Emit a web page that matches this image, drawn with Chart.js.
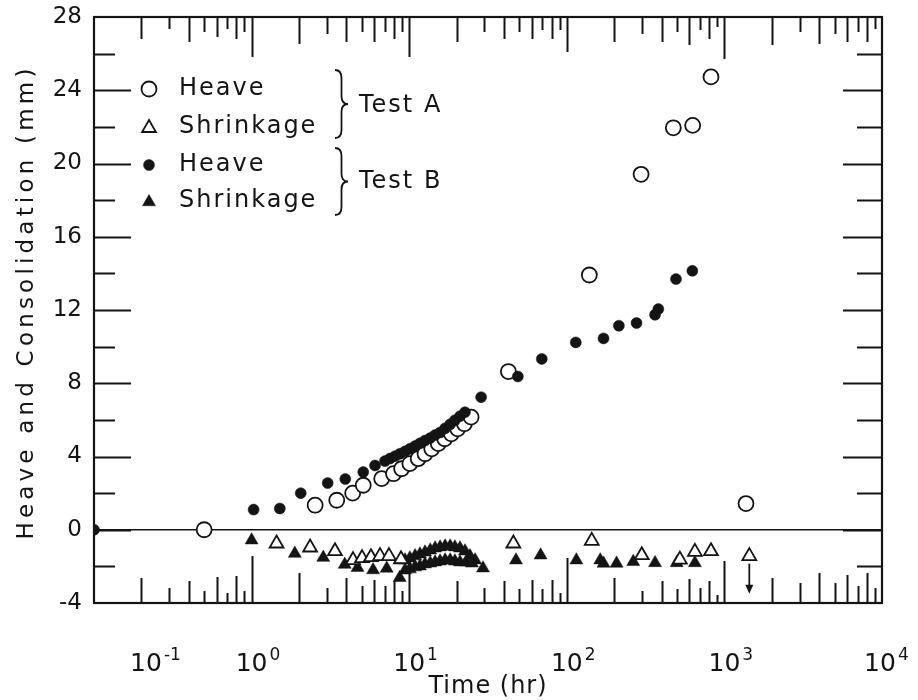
<!DOCTYPE html>
<html>
<head>
<meta charset="utf-8">
<script src="https://cdn.jsdelivr.net/npm/chart.js@4.4.1/dist/chart.umd.min.js"></script>
<style>
  html, body { margin: 0; padding: 0; background: #fff; }
  #wrap { width: 918px; height: 700px; }
</style>
</head>
<body>
<div id="wrap"><canvas id="c"></canvas></div>
<script>
"use strict";

// Test A - heave (open circles)
const heaveA_t = [0.5, 2.53, 3.47, 4.38, 5.11, 6.69, 7.95, 8.95, 10.1, 11.4, 12.6, 13.9, 15.3, 16.8, 18.5, 20.3, 22.4, 24.7, 42.6, 139, 296, 474, 629, 822, 1371];
const heaveA_v = [0, 1.34, 1.61, 2.0, 2.43, 2.79, 3.06, 3.33, 3.61, 3.88, 4.15, 4.42, 4.70, 4.97, 5.24, 5.51, 5.79, 6.15, 8.64, 13.91, 19.41, 21.95, 22.08, 24.73, 1.43];

// Test A - shrinkage (open triangles)
const shrinkA_t = [1.44, 2.35, 3.38, 4.40, 5.02, 5.72, 6.53, 7.44, 8.87, 45.8, 144, 299, 522, 650, 822, 1439];
const shrinkA_v = [-0.75, -0.97, -1.17, -1.66, -1.55, -1.50, -1.44, -1.44, -1.61, -0.75, -0.61, -1.39, -1.63, -1.21, -1.17, -1.44];

// Test B - heave (filled circles)
const heaveB_t = [0.1, 1.03, 1.51, 2.05, 3.04, 3.93, 5.11, 6.07, 7.02, 7.55, 8.13, 8.74, 9.41, 10.1, 10.9, 11.7, 12.6, 13.6, 14.6, 15.7, 16.9, 18.2, 19.5, 21.0, 22.6, 28.6, 48.9, 69.4, 114, 171, 214, 277, 363, 381, 493, 626];
const heaveB_v = [0, 1.10, 1.16, 2.0, 2.55, 2.77, 3.15, 3.51, 3.75, 3.89, 4.02, 4.15, 4.28, 4.42, 4.57, 4.72, 4.87, 5.01, 5.17, 5.31, 5.54, 5.76, 5.98, 6.20, 6.42, 7.24, 8.37, 9.33, 10.23, 10.45, 11.14, 11.29, 11.74, 12.05, 13.69, 14.14];

// Test B - shrinkage (filled triangles)
const shrinkB_t = [1.0, 1.88, 2.85, 3.9, 4.7, 5.9, 7.2, 8.7,
  9.41, 10.1, 10.9, 11.7, 12.6, 13.6, 14.6, 15.7, 16.9, 18.2, 19.5, 21.0, 22.6, 24.3, 26.2,
  9.41, 10.1, 10.9, 11.7, 12.6, 13.6, 14.6, 15.7, 16.9, 18.2, 19.5, 21.0, 22.9, 25.0, 29.4,
  47.6, 68.2, 115, 163, 171, 207, 264, 363, 498, 650];
const shrinkB_v = [-0.57, -1.30, -1.52, -1.90, -2.07, -2.20, -2.11, -2.62,
  -1.66, -1.55, -1.44, -1.34, -1.23, -1.12, -1.01, -0.95, -0.90, -0.90, -0.95, -1.01, -1.17, -1.44, -1.66,
  -2.21, -2.15, -2.04, -1.99, -1.88, -1.83, -1.77, -1.72, -1.66, -1.66, -1.72, -1.77, -1.77, -1.83, -2.10,
  -1.66, -1.39, -1.66, -1.66, -1.84, -1.84, -1.75, -1.81, -1.81, -1.81];

// last Test A shrinkage reading continues below the plotted value
const arrowT = 1439;
const arrowFrom = -1.85;
const arrowTo = -3.5;

const decadeTicks = [0.1, 1, 10, 100, 1000, 10000];
const decadeExp = ['-1', '0', '1', '2', '3', '4'];
const yTickValues = [-4, 0, 4, 8, 12, 16, 20, 24, 28];

// hand-drawn tick lengths (px), minor ticks 2..9 of each decade
const bottomMinorLen = [[25,15,22,12,26,10,27,12],[30,15,25,17,23,17,22,12],[22,15,22,14,23,14,23,10],[25,12,22,14,24,15,22,8],[25,20,30,20,28,17,30,15]];
const bottomMajorLen = [47, 47, 45, 42];
const topMinorLen = [[22,12,25,15,20,12,22,15],[27,17,25,15,25,15,22,15],[25,15,22,15,22,13,22,13],[25,17,25,15,28,13,22,10],[28,15,27,17,25,15,25,12]];
const topMajorLen = [40, 40, 35, 42];
// horizontal nudge of each decade label (first one clears the y labels)
const decadeLabelShift = [52, 0, 0, 0, 0, -2];

const FONT = "'DejaVu Sans', sans-serif";
const INK = '#141414';

function pts(ts, vs) {
    return ts.map((t, i) => ({ x: t, y: vs[i] }));
}

const styles = {
    openCircle:  { pointStyle: 'circle',   pointRadius: 7.5, backgroundColor: '#fff', borderColor: INK, pointBorderWidth: 1.8 },
    openTri:     { pointStyle: 'triangle', pointRadius: 8,   backgroundColor: '#fff', borderColor: INK, pointBorderWidth: 1.8 },
    fullCircle:  { pointStyle: 'circle',   pointRadius: 5.5, backgroundColor: INK,    borderColor: INK, pointBorderWidth: 0.5 },
    fullTri:     { pointStyle: 'triangle', pointRadius: 7.5, backgroundColor: INK,    borderColor: INK, pointBorderWidth: 0.5 }
};

const legendRows = [
    { style: styles.openCircle, text: 'Heave' },
    { style: styles.openTri,    text: 'Shrinkage' },
    { style: styles.fullCircle, text: 'Heave' },
    { style: styles.fullTri,    text: 'Shrinkage' }
];
const legendGroups = ['Test A', 'Test B'];

function drawBrace(ctx, x, top, bottom, w) {
    const mid = (top + bottom) / 2;
    const c = 8;
    ctx.beginPath();
    ctx.moveTo(x, top);
    ctx.quadraticCurveTo(x + w * 0.5, top, x + w * 0.5, top + c);
    ctx.lineTo(x + w * 0.5, mid - c);
    ctx.quadraticCurveTo(x + w * 0.5, mid, x + w, mid);
    ctx.quadraticCurveTo(x + w * 0.5, mid, x + w * 0.5, mid + c);
    ctx.lineTo(x + w * 0.5, bottom - c);
    ctx.quadraticCurveTo(x + w * 0.5, bottom, x, bottom);
    ctx.stroke();
}

const framePlugin = {
    id: 'frameTicks',
    afterDatasetsDraw(chart) {
        const { ctx, chartArea: a, scales: { x, y } } = chart;
        ctx.save();
        ctx.strokeStyle = INK;
        ctx.lineCap = 'butt';

        // frame
        ctx.lineWidth = 2.2;
        ctx.strokeRect(a.left, a.top, a.right - a.left, a.bottom - a.top);

        // y ticks, inward on both sides
        ctx.lineWidth = 2;
        for (let v = y.min + 2; v < y.max; v += 2) {
            const py = Math.round(y.getPixelForValue(v)) + 0.5;
            const major = v % 4 === 0;
            ctx.beginPath();
            ctx.moveTo(a.left, py);
            ctx.lineTo(a.left + (major ? 37 : 21), py);
            ctx.moveTo(a.right, py);
            ctx.lineTo(a.right - (major ? 39 : 25), py);
            ctx.stroke();
        }

        // log ticks along top and bottom
        for (let d = 0; d < 5; d++) {
            const base = Math.pow(10, d - 1);
            for (let m = 2; m <= 9; m++) {
                const px = Math.round(x.getPixelForValue(m * base)) + 0.5;
                ctx.beginPath();
                ctx.moveTo(px, a.bottom);
                ctx.lineTo(px, a.bottom - bottomMinorLen[d][m - 2]);
                ctx.moveTo(px, a.top);
                ctx.lineTo(px, a.top + topMinorLen[d][m - 2]);
                ctx.stroke();
            }
            if (d < 4) {
                const px = Math.round(x.getPixelForValue(base * 10)) + 0.5;
                ctx.beginPath();
                ctx.moveTo(px, a.bottom);
                ctx.lineTo(px, a.bottom - bottomMajorLen[d]);
                ctx.moveTo(px, a.top);
                ctx.lineTo(px, a.top + topMajorLen[d]);
                ctx.stroke();
            }
        }

        // arrow below the last shrinkage reading
        const ax = x.getPixelForValue(arrowT);
        const ay0 = y.getPixelForValue(arrowFrom);
        const ay1 = y.getPixelForValue(arrowTo);
        ctx.lineWidth = 1.8;
        ctx.beginPath();
        ctx.moveTo(ax, ay0);
        ctx.lineTo(ax, ay1 - 6);
        ctx.stroke();
        ctx.fillStyle = INK;
        ctx.beginPath();
        ctx.moveTo(ax - 4, ay1 - 9);
        ctx.lineTo(ax + 4, ay1 - 9);
        ctx.lineTo(ax, ay1);
        ctx.closePath();
        ctx.fill();

        // decade labels: 10 with a raised exponent
        ctx.fillStyle = INK;
        ctx.textBaseline = 'alphabetic';
        decadeTicks.forEach((v, i) => {
            const cx = x.getPixelForValue(v) + decadeLabelShift[i];
            ctx.font = '25px ' + FONT;
            ctx.letterSpacing = '0px';
            ctx.textAlign = 'center';
            ctx.fillText('10', cx, 671);
            const w = ctx.measureText('10').width;
            ctx.font = '17px ' + FONT;
            ctx.textAlign = 'left';
            ctx.fillText(decadeExp[i], cx + w / 2 + 2, 660);
        });

        // legend
        const lx = 149, tx = 179, rowY = [89, 127, 165, 201];
        ctx.font = '24px ' + FONT;
        ctx.letterSpacing = '2px';
        ctx.textBaseline = 'middle';
        ctx.textAlign = 'left';
        legendRows.forEach((row, i) => {
            const s = row.style;
            ctx.fillStyle = s.backgroundColor;
            ctx.strokeStyle = s.borderColor;
            ctx.lineWidth = s.pointBorderWidth;
            Chart.helpers.drawPoint(ctx, {
                pointStyle: s.pointStyle, radius: s.pointRadius, rotation: 0, borderWidth: s.pointBorderWidth
            }, lx, rowY[i] + (s.pointStyle === 'triangle' ? 1 : 0));
            ctx.fillStyle = INK;
            ctx.fillText(row.text, tx, rowY[i]);
        });
        ctx.strokeStyle = INK;
        ctx.lineWidth = 1.8;
        drawBrace(ctx, 335, 70, 138, 13);
        drawBrace(ctx, 335, 148, 215, 13);
        ctx.fillStyle = INK;
        ctx.fillText(legendGroups[0], 359, 106);
        ctx.fillText(legendGroups[1], 359, 182);

        // axis titles
        ctx.textAlign = 'center';
        ctx.textBaseline = 'alphabetic';
        ctx.font = '24px ' + FONT;
        ctx.letterSpacing = '1px';
        ctx.fillText('Time (hr)', (a.left + a.right) / 2, 693);
        ctx.font = '23px ' + FONT;
        ctx.letterSpacing = '4.2px';
        ctx.textBaseline = 'middle';
        ctx.translate(27, 302);
        ctx.rotate(-Math.PI / 2);
        ctx.fillText('Heave and Consolidation (mm)', 0, 0);
        ctx.restore();
    }
};

Chart.defaults.font.family = FONT;
Chart.defaults.color = INK;

const ds = (label, ts, vs, s) => Object.assign({ label, data: pts(ts, vs), showLine: false }, s);

new Chart(document.getElementById('c'), {
    type: 'scatter',
    data: {
        datasets: [
            ds('Shrinkage (Test A)', shrinkA_t, shrinkA_v, styles.openTri),
            ds('Heave (Test B)', heaveB_t, heaveB_v, styles.fullCircle),
            ds('Shrinkage (Test B)', shrinkB_t, shrinkB_v, styles.fullTri),
            ds('Heave (Test A)', heaveA_t, heaveA_v, styles.openCircle)
        ]
    },
    options: {
        responsive: true,
        maintainAspectRatio: false,
        animation: false,
        layout: { autoPadding: false, padding: { top: 17, right: 36, left: 0, bottom: 0 } },
        plugins: { legend: { display: false }, tooltip: { enabled: false } },
        scales: {
            x: {
                type: 'logarithmic',
                min: 0.1,
                max: 10000,
                afterFit: (s) => { s.height = 97; s.paddingLeft = 0; s.paddingRight = 0; },
                afterBuildTicks: (s) => { s.ticks = decadeTicks.map(v => ({ value: v })); },
                grid: { display: false, drawTicks: false },
                border: { display: false },
                ticks: { display: false }
            },
            y: {
                min: -4,
                max: 28,
                afterFit: (s) => { s.width = 94; s.paddingTop = 0; s.paddingBottom = 0; },
                afterBuildTicks: (s) => { s.ticks = yTickValues.map(v => ({ value: v })); },
                grid: {
                    drawTicks: false,
                    color: (c) => (c.tick && c.tick.value === 0 ? INK : 'rgba(0,0,0,0)'),
                    lineWidth: 1.6
                },
                border: { display: false },
                ticks: { padding: 12, font: { size: 23 } }
            }
        }
    },
    plugins: [framePlugin]
});
</script>
</body>
</html>
